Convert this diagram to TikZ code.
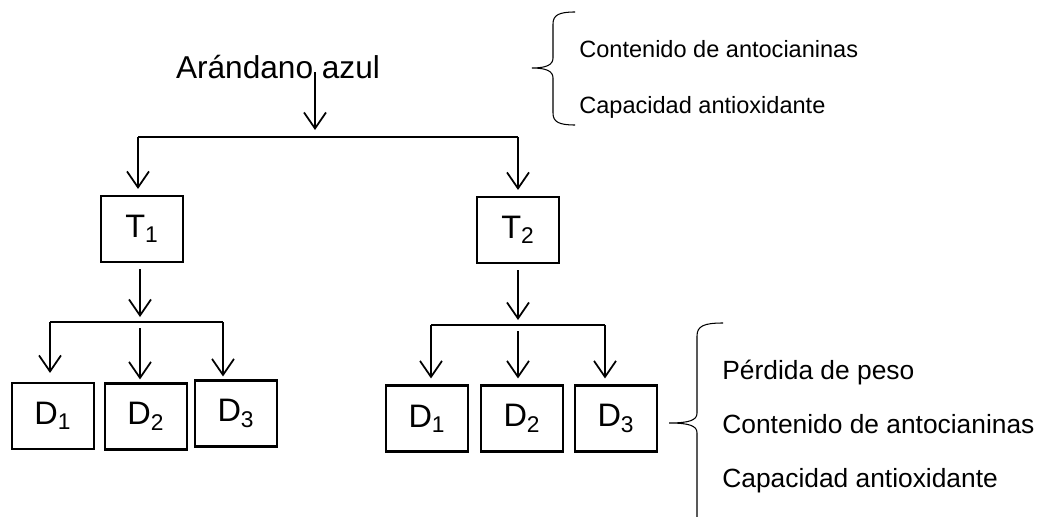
\documentclass[tikz,border=0pt]{standalone}
\usepackage{fontspec}
\setmainfont{Liberation Sans}
\usetikzlibrary{arrows.meta}

\begin{document}
\begin{tikzpicture}[x=0.02cm,y=-0.02cm,
  caja/.style={draw,line width=1.2pt,minimum width=1.64cm,minimum height=1.32cm,inner sep=0pt,font=\fontsize{18.5}{20}\selectfont},
  flecha/.style={-{Straight Barb[length=0.32cm,width=0.44cm]},line width=1pt},
  rama/.style={line width=0.6pt},
  lista/.style={anchor=base west,inner sep=0pt,font=\fontsize{13.4}{16}\selectfont},
  listab/.style={lista,font=\fontsize{15}{17}\selectfont},
  llave/.style={line width=0.6pt}]
\useasboundingbox (0,0) rectangle (1048,517);
\clip (0,0) rectangle (1048,517);
\node [anchor=base,inner sep=0pt,font=\fontsize{18}{20}\selectfont] (fruto) at (278,79) {Arándano azul};
\node [caja] (T1) at (142,229) {T\textsubscript{1}};
\node [caja] (T2) at (518,230) {T\textsubscript{2}};
\node [caja] (D11) at (53,416) {D\textsubscript{1}};
\node [caja] (D12) at (146,416.5) {D\textsubscript{2}};
\node [caja] (D13) at (236,413.5) {D\textsubscript{3}};
\node [caja] (D21) at (427,418.5) {D\textsubscript{1}};
\node [caja] (D22) at (522,418.5) {D\textsubscript{2}};
\node [caja] (D23) at (616,418.5) {D\textsubscript{3}};
\coordinate (s0) at (315,137);
\coordinate (s1) at (138,137);
\coordinate (s2) at (518,137);
\coordinate (b1) at (140,322);
\coordinate (b1l) at (50,322);
\coordinate (b1r) at (223,322);
\coordinate (b2) at (518,325);
\coordinate (b2l) at (431,325);
\coordinate (b2r) at (605,325);
\draw [flecha] ([yshift=0.14cm]fruto.base -| s0) -- ([yshift=0.14cm]s0);
\draw [rama] (s1) -- (s2);
\draw [flecha,shorten >=0.12cm] (s1) -- (s1 |- T1.north);
\draw [flecha,shorten >=0.12cm] (s2) -- (s2 |- T2.north);
\draw [flecha,shorten <=0.12cm,shorten >=0.1cm] (T1.south -| b1) -- (b1);
\draw [flecha,shorten <=0.12cm,shorten >=0.1cm] (T2.south -| b2) -- (b2);
\draw [rama] (b1l) -- (b1r);
\draw [rama] (b2l) -- (b2r);
\draw [flecha,shorten >=0.18cm] (b1l) -- (b1l |- D11.north);
\draw [flecha,shorten >=0.06cm] ([yshift=-0.12cm]b1) -- (b1 |- D12.north);
\draw [flecha,shorten >=0.06cm] (b1r) -- (b1r |- D13.north);
\draw [flecha,shorten >=0.12cm] (b2l) -- (b2l |- D21.north);
\draw [flecha,shorten >=0.12cm] ([yshift=-0.12cm]b2) -- (b2 |- D22.north);
\draw [flecha,shorten >=0.12cm] (b2r) -- (b2r |- D23.north);
\draw [llave] (575,12) .. controls (559,12) and (553,15) .. (553,24) -- (553,58) .. controls (553,65) and (546,68) .. (532,68)
  .. controls (546,68) and (553,71) .. (553,78) -- (553,113) .. controls (553,122) and (559,125) .. (575,125);
\node [lista] (v1) at (579,58) {Contenido de antocianinas};
\node [lista] (v2) at (579,113) {Capacidad antioxidante};
\draw [llave] (723,323) .. controls (704,323) and (697,326) .. (697,336) -- (697,413) .. controls (697,420) and (690,423) .. (669,423)
  .. controls (690,423) and (697,426) .. (697,433) -- (697,530);
\node [listab] (w1) at (722,379) {Pérdida de peso};
\node [listab] (w2) at (722,433) {Contenido de antocianinas};
\node [listab] (w3) at (722,487) {Capacidad antioxidante};
\end{tikzpicture}
\end{document}
